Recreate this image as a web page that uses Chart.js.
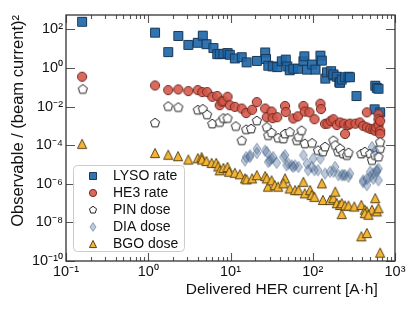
<!DOCTYPE html>
<html>
<head>
<meta charset="utf-8">
<script src="https://cdn.jsdelivr.net/npm/chart.js@4.4.1/dist/chart.umd.min.js"></script>
<style>
  body { margin: 0; background: #fff; }
</style>
</head>
<body>
<canvas id="chart" width="416" height="312"></canvas>
<script>
// values
const lysoX = [0.157, 1.21, 1.75, 2.32, 3.07, 4.0, 4.6, 5.1, 6.2, 6.9, 7.4, 8.2, 9.2, 9.8, 11.3, 13.7, 15.7, 20.9, 26.4, 27, 28.8, 32.5, 37, 42, 47, 49, 52.5, 58, 66, 77, 79, 85, 98, 108, 124, 129, 142, 149, 167, 178, 178, 196, 210, 215, 225, 247, 272, 283, 340, 565, 575, 600, 630, 660];
const lysoY = [245, 67, 6.6, 45, 15.5, 20, 47, 17, 10.7, 5.2, 5.2, 5.4, 5.9, 4.8, 3.1, 3.6, 1.95, 2.3, 6.3, 2.9, 1.3, 1.2, 1.1, 2.2, 2.7, 1.2, 0.76, 0.91, 0.91, 2.2, 4.0, 0.82, 1.5, 0.82, 4.3, 2.4, 0.28, 0.59, 0.68, 0.41, 0.46, 0.35, 0.18, 0.17, 0.25, 0.33, 0.35, 0.33, 0.035, 0.0072, 0.12, 0.093, 0.083, 0.005];

const he3X = [0.157, 1.21, 1.75, 2.32, 3.07, 4.0, 4.54, 5.2, 6.0, 6.9, 7.4, 7.8, 8.2, 9.2, 9.8, 11.3, 13.7, 15.5, 18.3, 20.9, 26.4, 27.6, 31.6, 32.5, 37, 46, 47, 58, 66, 77, 80, 91, 105, 124, 126, 141, 151, 165, 178, 196, 215, 241, 247, 272, 283, 330, 374, 410, 455, 455, 500, 545, 575, 590, 630, 630, 630, 660, 660, 660];
const he3Y = [0.35, 0.123, 0.071, 0.077, 0.063, 0.071, 0.056, 0.056, 0.032, 0.035, 0.0117, 0.018, 0.019, 0.032, 0.0117, 0.0096, 0.0079, 0.0046, 0.0068, 0.017, 0.0079, 0.0028, 0.0055, 0.0025, 0.0028, 0.0107, 0.0052, 0.0024, 0.0031, 0.0107, 0.0055, 0.0050, 0.0022, 0.014, 0.0074, 0.00127, 0.0013, 0.0018, 0.0022, 0.0011, 0.0015, 0.0013, 0.00038, 0.0011, 0.0013, 0.0013, 0.0015, 0.0010, 0.005, 0.00083, 0.0007, 0.00065, 0.00056, 0.00083, 0.0011, 0.0040, 0.0022, 0.00056, 0.00038, 0.0018];

const pinX = [0.16, 1.21, 1.75, 2.32, 4.0, 4.6, 5.2, 6.0, 7.4, 8.2, 9.2, 11.6, 13.7, 15.5, 17.8, 20.9, 27.6, 28.8, 31.6, 38, 44, 46, 52.5, 64, 67, 73, 80, 98, 116, 133, 141, 178, 188, 204, 215, 235, 260, 272, 390, 430, 500, 525, 575, 630, 660, 660];
const pinY = [0.077, 0.0014, 0.01, 0.0089, 0.0065, 0.0072, 0.0037, 0.00125, 0.0015, 0.0024, 0.0024, 0.00093, 0.00017, 0.00063, 0.00069, 0.0018, 0.00083, 0.00031, 0.00043, 0.00023, 0.00021, 0.00038, 0.00047, 0.00017, 0.00026, 0.00056, 0.000117, 0.000125, 5.2e-5, 4.4e-5, 8e-5, 1.7e-4, 9.6e-5, 4.4e-5, 6.5e-5, 3.5e-5, 2.9e-5, 4e-5, 3.5e-5, 4.4e-5, 3.5e-5, 1.6e-5, 2.9e-5, 2.4e-5, 6.5e-5, 1.4e-4];

const diaX = [15.5, 17.3, 20.9, 26.4, 28.8, 20.9, 17.2, 15, 27.6, 31.6, 36.4, 46, 50.6, 55.5, 61, 67, 85, 101, 97, 116, 141, 162, 187, 205, 236, 272, 410, 455, 500, 545, 600, 630, 30, 33, 44, 48, 58, 77, 88, 105, 124, 178, 225, 247, 283, 410, 455, 500, 545, 600, 630, 525, 575];
const diaY = [2.4e-5, 3e-5, 6.5e-5, 5.2e-5, 1.35e-5, 3.9e-5, 2.4e-5, 1.6e-5, 4.4e-5, 2e-5, 1.2e-5, 3e-5, 1.1e-5, 8.9e-6, 8.9e-6, 7.4e-6, 1.1e-5, 2e-5, 7.4e-6, 5e-6, 3.4e-6, 4.2e-6, 7.4e-6, 2.8e-6, 2.8e-6, 2.3e-6, 1.5e-6, 8.5e-7, 2.3e-6, 3.4e-6, 4.2e-6, 6e-6, 1.6e-5, 2.4e-5, 2.4e-5, 8.9e-6, 7.4e-6, 3e-5, 5e-6, 5e-6, 2e-5, 4.2e-6, 2.8e-6, 2.8e-6, 3.4e-6, 1.2e-6, 1.8e-6, 4.2e-6, 1.8e-6, 5e-6, 1.5e-6, 8e-5, 5e-5];

const bgoX = [0.157, 1.21, 1.75, 2.3, 3.07, 4.0, 4.45, 4.5, 5.1, 5.9, 6.7, 7.1, 7.4, 8.2, 9.2, 9.6, 11.3, 13, 15, 15.7, 18.3, 20.9, 26.4, 28.5, 27.6, 31.6, 34.5, 38, 46, 44, 52.5, 61, 67, 77, 80, 93, 97, 105, 129, 133, 162, 178, 188, 196, 215, 225, 247, 272, 225, 320, 390, 430, 455, 525, 575, 600, 630, 430, 475, 390, 455, 660];
const bgoY = [1.17e-4, 3.9e-5, 3.2e-5, 2.7e-5, 1.8e-5, 2.1e-5, 2.4e-5, 1.8e-5, 1.5e-5, 1.2e-5, 1.2e-5, 7.9e-6, 5e-6, 6.6e-6, 7.4e-6, 4.2e-6, 3.7e-6, 3.1e-6, 1.9e-6, 1.7e-6, 1.9e-6, 2.8e-6, 2.5e-6, 7.1e-7, 1.9e-6, 1.5e-6, 8.5e-7, 7.1e-7, 1.9e-6, 1.05e-6, 5.7e-7, 4.7e-7, 4.7e-7, 1.26e-6, 3.2e-7, 4.7e-7, 2.6e-7, 2.1e-7, 1.05e-6, 1.45e-7, 1.45e-7, 1.8e-7, 3.9e-7, 9.8e-8, 8e-8, 9.8e-8, 7.4e-8, 7.4e-8, 2.7e-8, 6.6e-8, 8e-8, 4.5e-8, 3.7e-8, 4.5e-8, 1.8e-7, 3.7e-8, 5.4e-8, 3e-8, 2.5e-8, 1.9e-9, 2.8e-9, 2.7e-10];

const seriesNames = ['LYSO rate', 'HE3 rate', 'PIN dose', 'DIA dose', 'BGO dose'];
const xTicks = [0.1, 1, 10, 100, 1000];
const xTickLabels = ['10⁻¹', '10⁰', '10¹', '10²', '10³'];
const yTicks = [1e-10, 1e-8, 1e-6, 1e-4, 1e-2, 1, 100];
const yTickLabels = ['10⁻¹⁰', '10⁻⁸', '10⁻⁶', '10⁻⁴', '10⁻²', '10⁰', '10²'];

const FONT = "'Liberation Sans', Arial, sans-serif";

const markerStyles = [
  { kind: 'square', fill: 'rgba(33,104,168,0.92)', edge: '#1b3856' },
  { kind: 'circle', fill: 'rgba(213,85,72,0.88)', edge: '#6e2a22' },
  { kind: 'pentagon', fill: '#ffffff', edge: '#222222' },
  { kind: 'diamond', fill: 'rgba(85,115,155,0.38)', edge: 'rgba(55,85,125,0.5)' },
  { kind: 'triangle', fill: '#f4b535', edge: '#5a4414' }
];

function markerPath(g, kind, x, y, k) {
  g.beginPath();
  if (kind === 'square') {
    const h = 4.5 * k;
    g.rect(x - h, y - h, 2 * h, 2 * h);
  } else if (kind === 'circle') {
    g.arc(x, y, 4.6 * k, 0, Math.PI * 2);
  } else if (kind === 'pentagon') {
    const r = 4.8 * k;
    for (let i = 0; i < 5; i++) {
      const a = -Math.PI / 2 + i * 2 * Math.PI / 5;
      const px = x + r * Math.cos(a), py = y + r * Math.sin(a);
      i ? g.lineTo(px, py) : g.moveTo(px, py);
    }
    g.closePath();
  } else if (kind === 'diamond') {
    g.moveTo(x, y - 5.6 * k);
    g.lineTo(x + 3.9 * k, y);
    g.lineTo(x, y + 5.6 * k);
    g.lineTo(x - 3.9 * k, y);
    g.closePath();
  } else if (kind === 'triangle') {
    const h = 4.6 * k;
    g.moveTo(x, y - h);
    g.lineTo(x + h, y + h);
    g.lineTo(x - h, y + h);
    g.closePath();
  }
}

function drawMarker(g, st, x, y, k) {
  markerPath(g, st.kind, x, y, k);
  g.fillStyle = st.fill;
  g.fill();
  g.lineWidth = 1;
  g.strokeStyle = st.edge;
  g.stroke();
}

function markerImage(st) {
  const c = document.createElement('canvas');
  c.width = c.height = 16;
  drawMarker(c.getContext('2d'), st, 8, 8, 1);
  return c;
}

const seriesX = [lysoX, he3X, pinX, diaX, bgoX];
const seriesY = [lysoY, he3Y, pinY, diaY, bgoY];

const datasets = seriesNames.map((name, i) => ({
  label: name,
  data: seriesX[i].map((x, j) => ({ x: x, y: seriesY[i][j] })),
  pointStyle: markerImage(markerStyles[i]),
  order: 5 - i,
  showLine: false
}));

// inward ticks on all four sides + frame
const frameTicks = {
  id: 'frameTicks',
  afterDatasetsDraw(chart) {
    const { ctx, chartArea: a } = chart;
    const xs = chart.scales.x, ys = chart.scales.y;
    ctx.save();
    ctx.strokeStyle = '#555';
    ctx.lineWidth = 1.1;
    ctx.beginPath();
    for (let d = 0.1; d < 1001; d *= 10) {
      for (let m = 1; m < 10; m++) {
        const v = d * m;
        if (v > 1000.01) break;
        const px = Math.round(xs.getPixelForValue(v)) + 0.5;
        const len = m === 1 ? 8 : 4;
        ctx.moveTo(px, a.bottom); ctx.lineTo(px, a.bottom - len);
        ctx.moveTo(px, a.top); ctx.lineTo(px, a.top + len);
      }
    }
    yTicks.forEach(v => {
      const py = Math.round(ys.getPixelForValue(v)) + 0.5;
      ctx.moveTo(a.left, py); ctx.lineTo(a.left + 9, py);
      ctx.moveTo(a.right, py); ctx.lineTo(a.right - 9, py);
    });
    ctx.stroke();
    ctx.strokeStyle = '#333';
    ctx.lineWidth = 1.3;
    ctx.strokeRect(a.left, a.top, a.right - a.left, a.bottom - a.top);
    ctx.restore();
  }
};

// legend box in the lower-left corner of the plot
const cornerLegend = {
  id: 'cornerLegend',
  afterDraw(chart) {
    const { ctx, chartArea: a } = chart;
    const bx = a.left + 7, bw = 111, bh = 86, by = a.bottom - 10 - bh;
    ctx.save();
    ctx.beginPath();
    ctx.roundRect(bx + 0.5, by + 0.5, bw, bh, 4);
    ctx.fillStyle = 'rgba(255,255,255,0.85)';
    ctx.fill();
    ctx.strokeStyle = '#cccccc';
    ctx.lineWidth = 1;
    ctx.stroke();
    ctx.font = '14px ' + FONT;
    ctx.textBaseline = 'middle';
    seriesNames.forEach((name, i) => {
      const ry = by + 11 + i * 17;
      drawMarker(ctx, markerStyles[i], bx + 20, ry, 0.78);
      ctx.fillStyle = '#111';
      ctx.fillText(name, bx + 40, ry);
    });
    ctx.restore();
  }
};

new Chart(document.getElementById('chart'), {
  type: 'scatter',
  data: { datasets: datasets },
  options: {
    responsive: false,
    animation: false,
    devicePixelRatio: 1,
    layout: { padding: { top: 15, right: 21, left: 0, bottom: 0 } },
    plugins: {
      legend: { display: false },
      tooltip: { enabled: false }
    },
    events: [],
    scales: {
      x: {
        type: 'logarithmic',
        min: 0.1,
        max: 1000,
        afterBuildTicks: s => { s.ticks = xTicks.map(v => ({ value: v })); },
        afterFit: s => { s.height = 51; },
        grid: { display: false, drawTicks: false },
        border: { display: false },
        ticks: {
          autoSkip: false,
          maxRotation: 0,
          padding: 2,
          color: '#111',
          font: { family: FONT, size: 14.5 },
          callback: (v, i) => xTickLabels[i]
        },
        title: {
          display: true,
          text: 'Delivered HER current [A·h]' + '\u00a0\u00a0\u00a0\u00a0',
          align: 'end',
          color: '#111',
          font: { family: FONT, size: 15.5 },
          padding: { top: 0, bottom: 13 }
        }
      },
      y: {
        type: 'logarithmic',
        min: 1e-10,
        max: 550,
        afterBuildTicks: s => { s.ticks = yTicks.map(v => ({ value: v })); },
        afterFit: s => { s.width = 66; },
        grid: { display: false, drawTicks: false },
        border: { display: false },
        ticks: {
          autoSkip: false,
          padding: 3,
          color: '#111',
          font: { family: FONT, size: 14.5 },
          callback: (v, i) => yTickLabels[i]
        },
        title: {
          display: true,
          text: 'Observable / (beam current)²',
          align: 'end',
          color: '#111',
          font: { family: FONT, size: 16.5 },
          padding: { top: 9, bottom: 0 }
        }
      }
    }
  },
  plugins: [frameTicks, cornerLegend]
});
</script>
</body>
</html>
